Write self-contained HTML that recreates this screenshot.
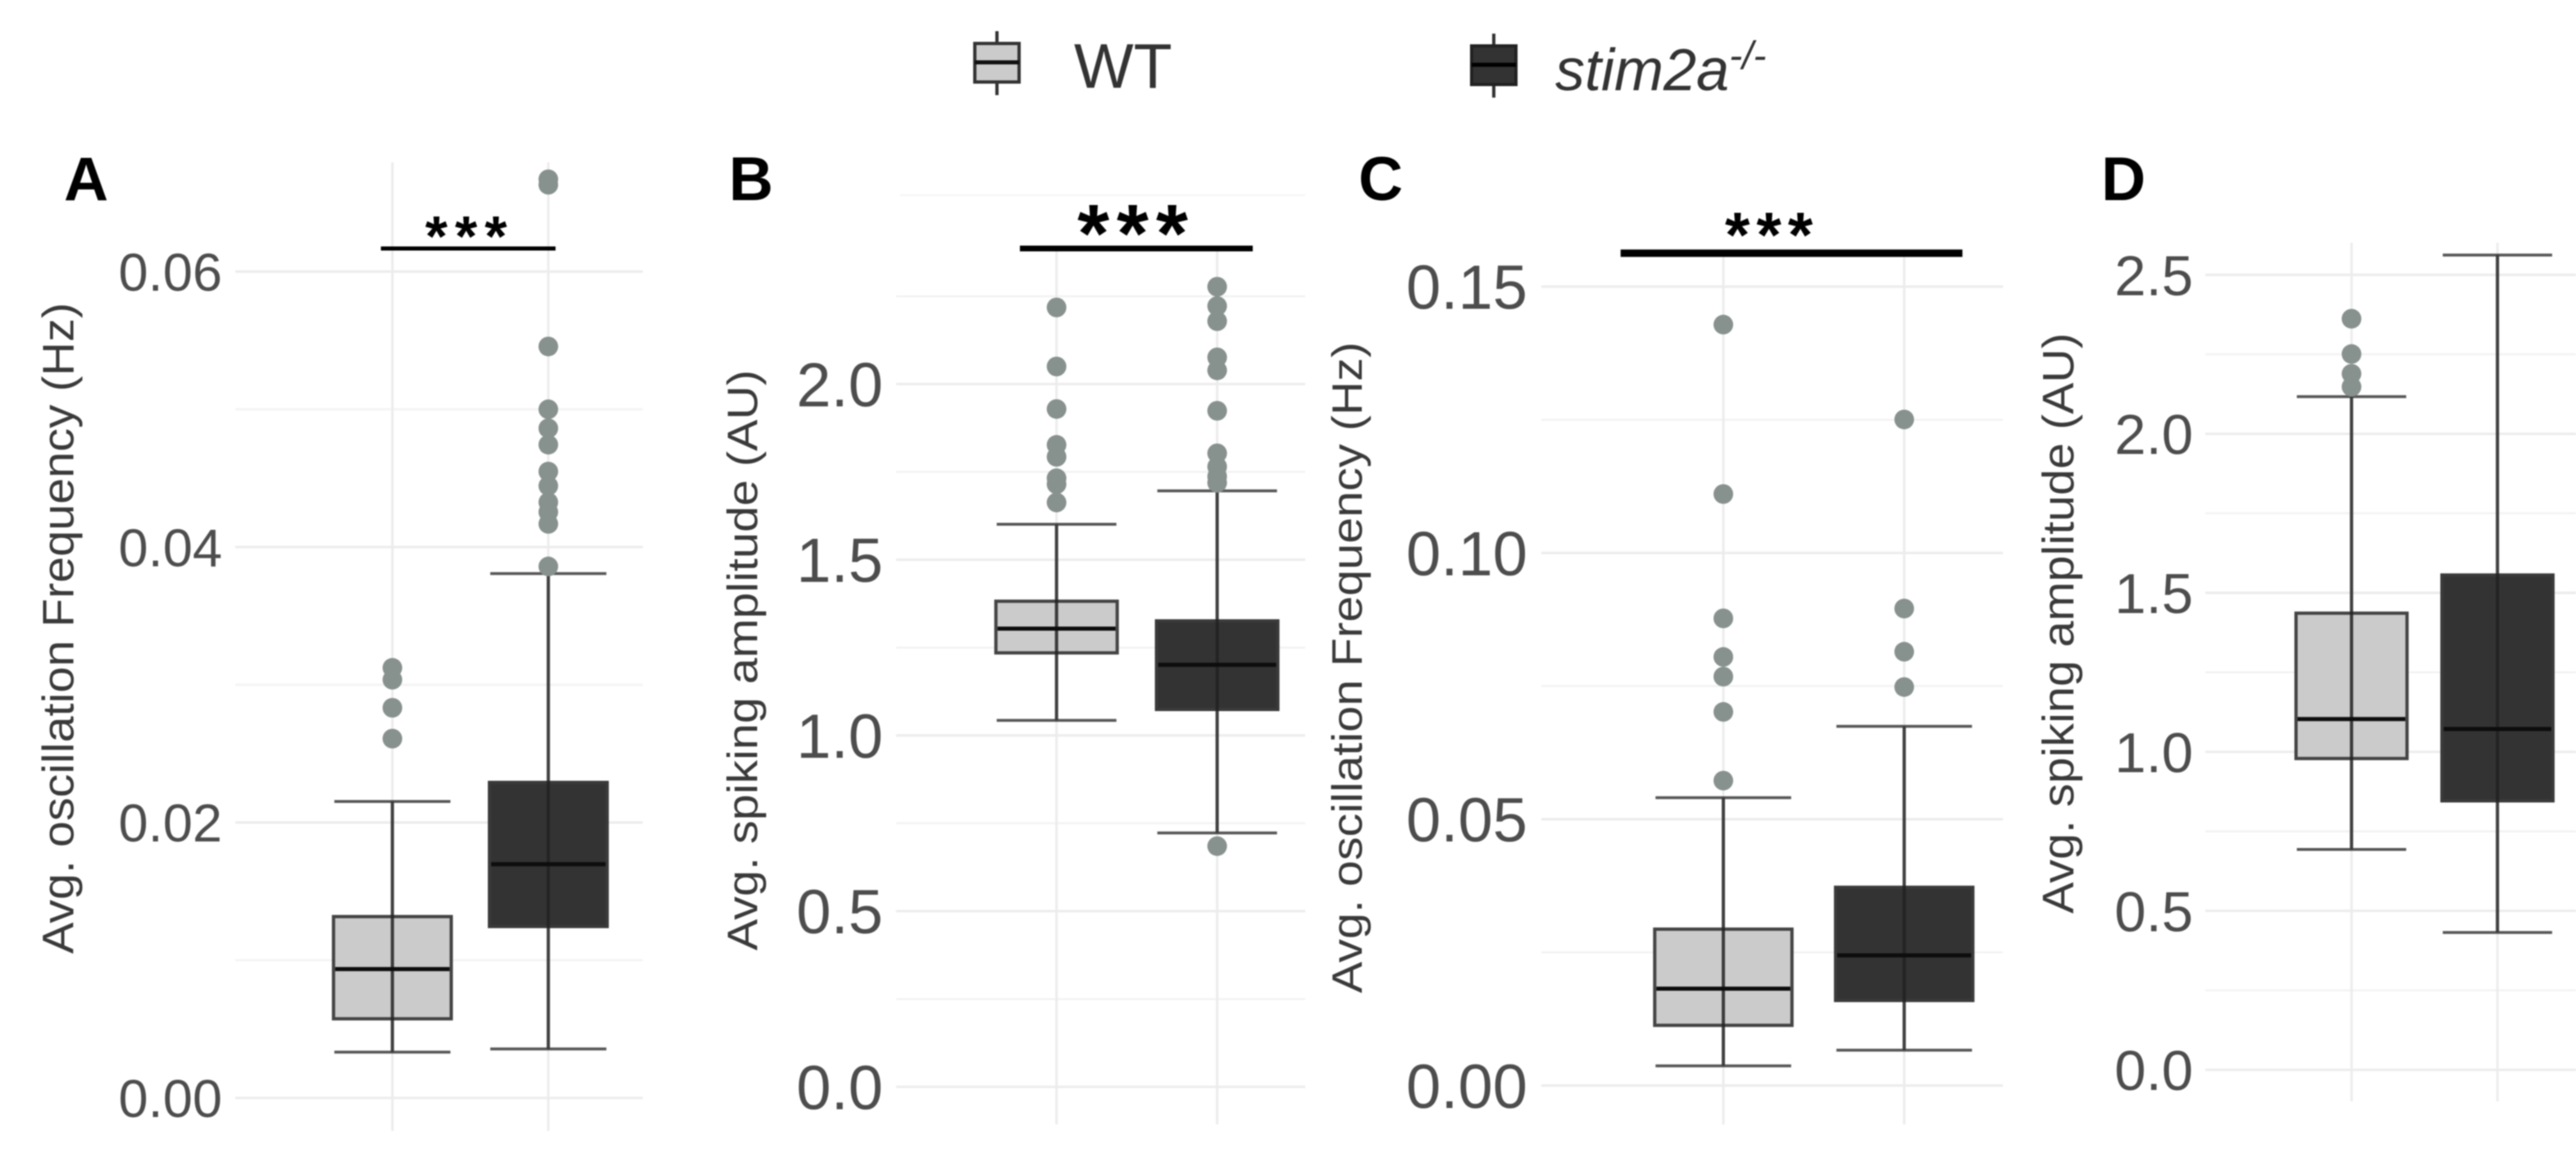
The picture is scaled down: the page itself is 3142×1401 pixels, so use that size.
<!DOCTYPE html>
<html>
<head>
<meta charset="utf-8">
<title>Boxplots</title>
<style>
html,body{margin:0;padding:0;background:#fff;}
svg{display:block;filter:blur(0.9px);font-family:"Liberation Sans",sans-serif;}
</style>
</head>
<body>
<svg id="fig" xmlns="http://www.w3.org/2000/svg" width="3142" height="1401" viewBox="0 0 3142 1401">
  <rect x="0" y="0" width="3142" height="1401" fill="#ffffff"/>
  <line x1="1098" y1="238" x2="1592" y2="238" stroke="#f5f5f5" stroke-width="2"/>
  <g>
    <g>
      <line x1="1216" y1="38" x2="1216" y2="116" stroke="#333" stroke-width="4"/>
      <rect x="1189" y="53" width="54" height="47" fill="#cbcbcb" stroke="#333" stroke-width="4"/>
      <line x1="1189" y1="76" x2="1243" y2="76" stroke="#111" stroke-width="5"/>
      <text x="1310" y="107" font-size="77" fill="#333">WT</text>
    </g>
    <g>
      <line x1="1822" y1="41" x2="1822" y2="119" stroke="#333" stroke-width="4"/>
      <rect x="1795" y="56" width="54" height="47" fill="#333333" stroke="#222" stroke-width="4"/>
      <line x1="1795" y1="79" x2="1849" y2="79" stroke="#000" stroke-width="5"/>
      <text x="1897" y="110" font-size="72" font-style="italic" fill="#333">stim2a<tspan font-size="48" dy="-26">-/-</tspan></text>
    </g>
  </g>
</svg>
<script>
var categories = ['WT', 'stim2a-/-'];

var aTickLabels = ['0.00', '0.02', '0.04', '0.06'];
var aMinorTicks = [0.01, 0.03, 0.05];
var aWtStats = [0.00333, 0.00575, 0.00936, 0.01317, 0.02153];
var aKoStats = [0.00356, 0.01245, 0.01697, 0.02291, 0.03807];
var aWtOutliers = [0.03123, 0.03037, 0.02833, 0.02609];
var aKoOutliers = [0.0667, 0.0663, 0.05456, 0.05, 0.04862, 0.04743, 0.04548, 0.04444, 0.04325, 0.04254, 0.04168, 0.03859];

var bTickLabels = ['0.0', '0.5', '1.0', '1.5', '2.0'];
var bMinorTicks = [0.25, 0.75, 1.25, 1.75, 2.25];
var bWtStats = [1.043, 1.235, 1.304, 1.382, 1.601];
var bKoStats = [0.7225, 1.074, 1.201, 1.326, 1.696];
var bWtOutliers = [2.218, 2.05, 1.929, 1.827, 1.793, 1.732, 1.715, 1.663];
var bKoOutliers = [2.277, 2.222, 2.179, 2.076, 2.039, 1.924, 1.803, 1.765, 1.737, 1.719, 0.685];

var cTickLabels = ['0.00', '0.05', '0.10', '0.15'];
var cMinorTicks = [0.025, 0.075, 0.125];
var cWtStats = [0.00369, 0.0113, 0.01818, 0.02936, 0.05405];
var cKoStats = [0.00663, 0.01597, 0.02445, 0.03722, 0.06744];
var cWtOutliers = [0.14287, 0.11106, 0.08771, 0.08047, 0.07678, 0.07015, 0.05725];
var cKoOutliers = [0.12506, 0.08956, 0.08145, 0.07482];

var dTickLabels = ['0.0', '0.5', '1.0', '1.5', '2.0', '2.5'];
var dMinorTicks = [0.25, 0.75, 1.25, 1.75, 2.25];
var dWtStats = [0.693, 0.979, 1.103, 1.436, 2.117];
var dKoStats = [0.432, 0.846, 1.072, 1.556, 2.562];
var dWtOutliers = [2.362, 2.251, 2.189, 2.148];
var dKoOutliers = [];

var NS = 'http://www.w3.org/2000/svg';
var fig = document.getElementById('fig');

function mk(tag, attrs, parent) {
  var el = document.createElementNS(NS, tag);
  for (var k in attrs) { el.setAttribute(k, attrs[k]); }
  parent.appendChild(el);
  return el;
}

function linearScale(d0, d1, r0, r1) {
  return function (v) { return r0 + (v - d0) / (d1 - d0) * (r1 - r0); };
}

function drawBox(g, stats, outliers, cx, hw, y, fill, stroke, key) {
  var low = stats[0], q1 = stats[1], med = stats[2], q3 = stats[3], high = stats[4];
  var i;
  var box = mk('rect', {x: cx - hw, y: y(q3), width: hw * 2, height: y(q1) - y(q3), fill: fill, stroke: stroke, 'stroke-width': 4}, g);
  
  
  var whisker = mk('line', {x1: cx, x2: cx, y1: y(low), y2: y(high), stroke: '#222222', 'stroke-width': 4, 'stroke-opacity': 0.85}, g);
  
  
  var capLow = mk('line', {x1: cx - hw + 1, x2: cx + hw - 1, y1: y(low), y2: y(low), stroke: '#3a3a3a', 'stroke-width': 3.5, 'stroke-opacity': 0.85}, g);
  
  
  var capHigh = mk('line', {x1: cx - hw + 1, x2: cx + hw - 1, y1: y(high), y2: y(high), stroke: '#3a3a3a', 'stroke-width': 3.5, 'stroke-opacity': 0.85}, g);
  
  
  var median = mk('line', {x1: cx - hw + 2, x2: cx + hw - 2, y1: y(med), y2: y(med), stroke: '#0d0d0d', 'stroke-width': 5}, g);
  
  
  for (i = 0; i < outliers.length; i++) {
    var pt = mk('circle', {cx: cx, cy: y(outliers[i]), r: 12, fill: '#87918e'}, g);
    
    
  }
}

function drawPanel(p) {
  var y = linearScale(p.dMin, p.dMax, p.yMin, p.yMax);
  var x = function (i) { return i === 0 ? p.x0 : p.x1; };
  var g = mk('g', {}, fig);
  
  
  var i;

  for (i = 0; i < p.minor.length; i++) {
    var mg = mk('line', {x1: p.left, x2: p.right, y1: y(p.minor[i]), y2: y(p.minor[i]), stroke: '#f3f3f3', 'stroke-width': 2.5}, g);
    
    
  }
  for (i = 0; i < p.ticks.length; i++) {
    var v = parseFloat(p.ticks[i]);
    var gl = mk('line', {x1: p.left, x2: p.right, y1: y(v), y2: y(v), stroke: '#ececec', 'stroke-width': 3}, g);
    
    
    var tl = mk('text', {x: p.tickX, y: y(v) + p.tickSize * 0.358, 'font-size': p.tickSize, 'text-anchor': 'end', fill: '#4d4d4d'}, g);
    tl.textContent = p.ticks[i];
    
    
  }
  for (i = 0; i < categories.length; i++) {
    var vg = mk('line', {x1: x(i), x2: x(i), y1: p.gridTop, y2: p.gridBottom, stroke: '#ececec', 'stroke-width': 3}, g);
    
    
  }

  drawBox(g, p.wt, p.wtOut, x(0), p.hw, y, '#cbcbcb', '#444444', 'wt');
  drawBox(g, p.ko, p.koOut, x(1), p.hw, y, '#333333', '#3a3a3a', 'stim2a');

  var title = mk('text', {x: p.titleX, y: p.titleY, 'font-size': p.titleSize, fill: '#3a3a3a', textLength: p.titleLen, lengthAdjust: 'spacingAndGlyphs', transform: 'rotate(-90 ' + p.titleX + ' ' + p.titleY + ')'}, g);
  title.textContent = p.title;
  
  

  var tag = mk('text', {x: p.tagX, y: 244, 'font-size': 75, 'font-weight': 'bold', fill: '#000'}, g);
  tag.textContent = p.id.toUpperCase();
  
  

  if (p.sig) {
    var bar = mk('line', {x1: p.sig.x1, x2: p.sig.x2, y1: p.sig.y, y2: p.sig.y, stroke: '#000', 'stroke-width': p.sig.w}, g);
    
    
    var stars = mk('text', {x: p.sig.sx, y: p.sig.sy, 'font-size': p.sig.size, 'font-weight': 'bold', 'text-anchor': 'middle', 'letter-spacing': p.sig.ls, fill: '#000'}, g);
    stars.textContent = '***';
    
    
  }
}

drawPanel({id: 'a', title: 'Avg. oscillation Frequency (Hz)', ticks: aTickLabels, minor: aMinorTicks, wt: aWtStats, ko: aKoStats, wtOut: aWtOutliers, koOut: aKoOutliers,
  dMin: 0, dMax: 0.06, yMin: 1338.8, yMax: 331.1, x0: 478.6, x1: 668.8, hw: 71.8, left: 287, right: 784, gridTop: 198, gridBottom: 1379,
  tickX: 271, tickSize: 65, titleX: 89.5, titleY: 1163, titleSize: 54, titleLen: 794, tagX: 78,
  sig: {x1: 464.6, x2: 677.6, y: 303, w: 5, sx: 573, sy: 312, size: 70, ls: 9}});

drawPanel({id: 'b', title: 'Avg. spiking amplitude (AU)', ticks: bTickLabels, minor: bMinorTicks, wt: bWtStats, ko: bKoStats, wtOut: bWtOutliers, koOut: bKoOutliers,
  dMin: 0, dMax: 2, yMin: 1325.2, yMax: 468.3, x0: 1288.7, x1: 1484.6, hw: 74, left: 1093, right: 1592, gridTop: 303, gridBottom: 1371,
  tickX: 1077, tickSize: 76, titleX: 923.5, titleY: 1159, titleSize: 52, titleLen: 708, tagX: 889,
  sig: {x1: 1244, x2: 1528, y: 303, w: 7, sx: 1386, sy: 319, size: 100, ls: 9}});

drawPanel({id: 'c', title: 'Avg. oscillation Frequency (Hz)', ticks: cTickLabels, minor: cMinorTicks, wt: cWtStats, ko: cKoStats, wtOut: cWtOutliers, koOut: cKoOutliers,
  dMin: 0, dMax: 0.15, yMin: 1323.6, yMax: 349.5, x0: 2102, x1: 2322.6, hw: 83.7, left: 1880, right: 2443, gridTop: 309, gridBottom: 1371,
  tickX: 1863, tickSize: 76, titleX: 1661, titleY: 1211, titleSize: 52, titleLen: 794, tagX: 1657,
  sig: {x1: 1976.7, x2: 2393.6, y: 308.8, w: 9, sx: 2161.6, sy: 313, size: 78, ls: 8}});

drawPanel({id: 'd', title: 'Avg. spiking amplitude (AU)', ticks: dTickLabels, minor: dMinorTicks, wt: dWtStats, ko: dKoStats, wtOut: dWtOutliers, koOut: dKoOutliers,
  dMin: 0, dMax: 2.5, yMin: 1304.5, yMax: 335.1, x0: 2868.2, x1: 3046.2, hw: 67.7, left: 2690, right: 3142, gridTop: 296, gridBottom: 1343,
  tickX: 2675, tickSize: 69, titleX: 2529, titleY: 1114, titleSize: 54, titleLen: 708, tagX: 2563,
  sig: null});
</script>
</body>
</html>
